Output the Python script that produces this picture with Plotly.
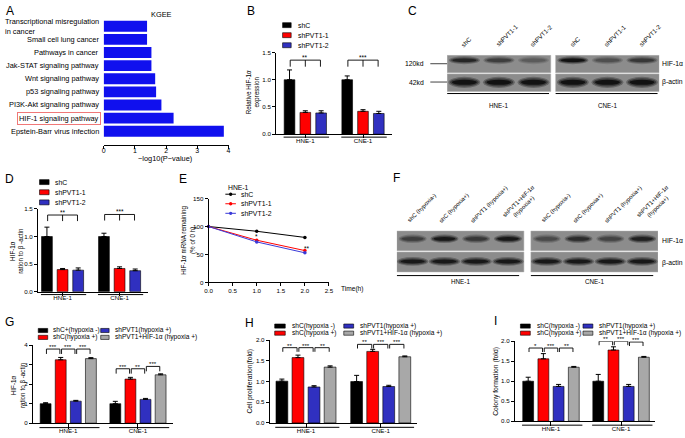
import plotly.graph_objects as go

W, H = 685, 438
FONT = "Liberation Sans, Arial, sans-serif"

# ======================= DATA =======================
# Panel A (KEGG enrichment)
kegg_terms = ["Epstein-Barr virus infection", "HIF-1 signaling pathway",
              "PI3K-Akt signaling pathway", "p53 signaling pathway",
              "Wnt signaling pathway", "Jak-STAT signaling pathway",
              "Pathways in cancer", "Small cell lung cancer",
              "Transcriptional misregulation<br>in cancer"]
kegg_logp = [3.85, 2.24, 1.85, 1.68, 1.65, 1.53, 1.53, 1.39, 1.39]
kegg_highlight = "HIF-1 signaling pathway"

cell_lines = ["HNE-1", "CNE-1"]

# Panel B (qPCR)
sh_groups = ["shC", "shPVT1-1", "shPVT1-2"]
b_shC = [1.00, 1.00]
b_shC_err = [0.18, 0.07]
b_sh1 = [0.40, 0.42]
b_sh1_err = [0.03, 0.03]
b_sh2 = [0.39, 0.38]
b_sh2_err = [0.04, 0.04]
b_sig = ["**", "***"]

# Panel D (WB quantification)
d_shC = [1.00, 1.00]
d_shC_err = [0.17, 0.06]
d_sh1 = [0.40, 0.42]
d_sh1_err = [0.02, 0.03]
d_sh2 = [0.39, 0.38]
d_sh2_err = [0.04, 0.03]
d_sig = ["**", "***"]

# Panel E (mRNA stability)
e_time = [0, 1, 2]
e_shC = [100, 91.5, 80.5]
e_sh1 = [100, 75.5, 57.0]
e_sh2 = [100, 72.5, 53.0]
e_sig = ["*", "**"]

# Panel C blots (relative band intensity 0..1)
c_lanes = ["shC", "shPVT1-1", "shPVT1-2"]
c_hif_hne = [0.85, 0.65, 0.40]
c_hif_cne = [1.00, 0.50, 0.70]
c_actin_hne = [1.00, 1.00, 1.00]
c_actin_cne = [1.00, 1.00, 1.00]

# Panel F blots
f_lanes = ["shC (hypoxia-)", "shC (hypoxia+)", "shPVT1 (hypoxia+)",
           "shPVT1+HIF-1α<br>(hypoxia+)"]
f_hif_hne = [0.65, 0.95, 0.70, 0.95]
f_hif_cne = [0.55, 0.80, 0.60, 0.90]
f_actin_hne = [0.95, 0.95, 0.95, 0.95]
f_actin_cne = [0.95, 0.95, 0.95, 0.95]

# Panels G, H, I
g_groups = ["shC+(hypoxia -)", "shC(hypoxia +)", "shPVT1(hypoxia +)",
            "shPVT1+HIF-1α (hypoxia +)"]
hyp_groups = ["shC(hypoxia -)", "shC(hypoxia +)", "shPVT1(hypoxia +)",
              "shPVT1+HIF-1α (hypoxia +)"]
g_hne = [1.00, 3.25, 1.13, 3.31]
g_hne_err = [0.05, 0.12, 0.04, 0.05]
g_cne = [1.00, 2.26, 1.22, 2.48]
g_cne_err = [0.12, 0.09, 0.05, 0.05]
g_sig_hne = ["***", "***", "***"]
g_sig_cne = ["***", "**", "***"]

h_hne = [1.01, 1.58, 0.87, 1.35]
h_hne_err = [0.05, 0.06, 0.03, 0.03]
h_cne = [1.00, 1.73, 0.88, 1.60]
h_cne_err = [0.15, 0.05, 0.03, 0.02]
h_sig_hne = ["**", "***", "**"]
h_sig_cne = ["**", "***", "***"]

i_hne = [1.00, 1.56, 0.87, 1.35]
i_hne_err = [0.10, 0.13, 0.05, 0.02]
i_cne = [1.00, 1.78, 0.87, 1.60]
i_cne_err = [0.17, 0.08, 0.05, 0.02]
i_sig_hne = ["*", "***", "**"]
i_sig_cne = ["**", "***", "***"]

# ======================= STYLE =======================
BLACK, RED, BLUE, GRAY, ABLUE = "#000000", "#ff0000", "#3030c0", "#a8a8a8", "#1010ee"
EBLUE = "#3a3ad8"
colors3 = [BLACK, RED, BLUE]
colors4 = [BLACK, RED, BLUE, GRAY]
BLOT_BG = (140, 140, 140)

fig = go.Figure()
shapes, annos, layout = [], [], {}


def ax_ids(n):
    s = "" if n == 1 else str(n)
    return "x" + s, "y" + s, "xaxis" + s, "yaxis" + s


def xd(a, b):
    return [a / W, b / W]


def yd(top, bot):
    return [1 - bot / H, 1 - top / H]


def PX(v):
    return v / W


def PY(v):
    return 1 - v / H


def tf(size=6.2, color="black"):
    return dict(family=FONT, size=size, color=color)


def prism_axis(dom, rng, anchor, ticklen=3, **kw):
    d = dict(domain=dom, range=rng, anchor=anchor, showline=True, linecolor="black",
             linewidth=1, ticks="outside", ticklen=ticklen, tickwidth=1,
             tickcolor="black", showgrid=False, zeroline=False, tickfont=tf(),
             fixedrange=True)
    d.update(kw)
    return d


def text(x, y, s, size=7, xanchor="center", yanchor="middle", **kw):
    annos.append(dict(x=PX(x), y=PY(y), xref="paper", yref="paper", text=s,
                      showarrow=False, font=tf(size), xanchor=xanchor,
                      yanchor=yanchor, **kw))


def hline_px(x0, x1, y, w=1, color="black"):
    shapes.append(dict(type="line", xref="paper", yref="paper", x0=PX(x0), x1=PX(x1),
                       y0=PY(y), y1=PY(y), line=dict(color=color, width=w)))


def swatch(x0, x1, yc, h, color):
    shapes.append(dict(type="rect", xref="paper", yref="paper", x0=PX(x0), x1=PX(x1),
                       y0=PY(yc + h / 2), y1=PY(yc - h / 2), fillcolor=color,
                       line=dict(color="black", width=0.6)))


def blend(c1, c2, t):
    return "rgb(%d,%d,%d)" % tuple(round(a + (b - a) * t) for a, b in zip(c1, c2))


def bar_panel(n, box, yrange, dtick, tickfmt, series, errs, colors, step, bw,
              xrange, under_px, brackets, drop, sig_size=6.5, standoff=-3):
    x, y, xk, yk = ax_ids(n)
    left, right, top, bot = box
    layout[xk] = prism_axis(xd(left, right), xrange, y, ticklen=under_px,
                            type="category", categoryorder="array",
                            categoryarray=cell_lines, ticklabelstandoff=standoff)
    layout[yk] = prism_axis(yd(top, bot), yrange, x, dtick=dtick, tickformat=tickfmt)
    k = len(series)
    offs = [(i - (k - 1) / 2) * step for i in range(k)]
    for i in range(k):
        fig.add_trace(go.Bar(
            x=cell_lines, y=series[i], xaxis=x, yaxis=y, width=bw,
            offset=offs[i] - bw / 2,
            marker=dict(color=colors[i], line=dict(color="black", width=0.6)),
            error_y=dict(type="data", symmetric=False, array=errs[i],
                         arrayminus=[0] * len(errs[i]), color="black",
                         thickness=1, width=2.5),
            showlegend=False, hoverinfo="skip"))
    half = offs[-1] + bw / 2
    for g in range(len(cell_lines)):
        shapes.append(dict(type="line", xref=x, yref="paper", x0=g - half - 0.01,
                           x1=g + half + 0.045, y0=PY(bot + under_px),
                           y1=PY(bot + under_px), line=dict(color="black", width=1)))
    for (g, i0, i1, yb, label, mid) in brackets:
        xa = g + offs[i0] + 0.012
        xb = g + offs[i1] - 0.012
        segs = [(xa, yb, xb, yb), (xa, yb, xa, yb - drop), (xb, yb, xb, yb - drop)]
        xc = (xa + xb) / 2
        if mid is not None:
            xc = g + offs[mid]
            segs.append((xc, yb, xc, yb - drop))
        for (a0, b0, a1, b1) in segs:
            shapes.append(dict(type="line", xref=x, yref=y, x0=a0, y0=b0, x1=a1, y1=b1,
                               line=dict(color="black", width=0.9)))
        annos.append(dict(x=xc, y=yb, xref=x, yref=y, text=label, showarrow=False,
                          font=tf(sig_size), xanchor="center", yanchor="bottom",
                          yshift=-3))


# ======================= PANEL A =======================
layout["xaxis"] = prism_axis(xd(101, 227.5), [0, 4], "y", dtick=1, tickfont=tf(7),
                             ticklabelstandoff=-4)
layout["yaxis"] = dict(domain=yd(16, 143), range=[-1.03, 8.5], type="category",
                       categoryorder="array", categoryarray=kegg_terms, showline=False,
                       showticklabels=False, ticks="", showgrid=False, zeroline=False,
                       anchor="x", fixedrange=True)
fig.add_trace(go.Bar(x=kegg_logp, y=kegg_terms, orientation="h", xaxis="x", yaxis="y",
                     width=0.83, marker=dict(color=ABLUE, line=dict(width=0)),
                     showlegend=False, hoverinfo="skip"))
for i, term in enumerate(kegg_terms):
    extra = {}
    if term == kegg_highlight:
        extra = dict(bordercolor="#f07878", borderwidth=1, borderpad=1)
    annos.append(dict(x=PX(98.5), y=i, xref="paper", yref="y", text=term,
                      showarrow=False, font=tf(7.4), xanchor="right", yanchor="middle",
                      align="left", **extra))
text(160, 10.5, "KGEE", 7.4)
text(163, 157, "−log10(P−value)", 7.4)

# ======================= PANEL B =======================
bar_panel(2, (275.7, 393.3, 49.3, 132.3), [0, 1.5], 0.5, ".1f",
          [b_shC, b_sh1, b_sh2], [b_shC_err, b_sh1_err, b_sh2_err], colors3,
          0.274, 0.185, [-0.507, 1.505], 3,
          [(0, 0, 2, 1.36, b_sig[0], 1), (1, 0, 2, 1.36, b_sig[1], 1)], 0.12)
for j, lab in enumerate(sh_groups):
    yc = 21.5 + j * 10.2
    swatch(282.3, 291, yc, 5, colors3[j])
    text(296, yc, lab, 6.9, xanchor="left")
text(252, 90, "Relative HIF-1α<br>expression", 6.3, textangle=-90)

# ======================= PANEL C (blot) =======================
x3, y3, xk3, yk3 = ax_ids(3)
layout[xk3] = dict(domain=xd(449, 664), range=[-0.5, 5.64], visible=False,
                   fixedrange=True, anchor=y3)
layout[yk3] = dict(domain=yd(51.5, 89.5), range=[1.5, -0.5], visible=False,
                   fixedrange=True, anchor=x3)
c_gap = 0.14
c_pos = [[i for i in range(len(c_lanes))],
         [len(c_lanes) + c_gap + i for i in range(len(c_lanes))]]
fig.add_trace(go.Scatter(x=c_pos[0] + c_pos[1], y=[0] * 6, xaxis=x3, yaxis=y3,
                         mode="markers", marker=dict(opacity=0), showlegend=False,
                         hoverinfo="skip"))


def band(xref, yref, xc, yc, w, h, k):
    for ws, hs, dk in [(1.0, 1.0, 0.3), (0.9, 0.72, 0.62), (0.78, 0.45, 0.95)]:
        shapes.append(dict(type="circle", xref=xref, yref=yref,
                           x0=xc - w * ws / 2, x1=xc + w * ws / 2,
                           y0=yc - h * hs / 2, y1=yc + h * hs / 2,
                           fillcolor=blend(BLOT_BG, (12, 12, 12), dk * k),
                           line=dict(width=0)))


def blot(xref, yref, pos_sets, rows, row_cfg):
    for r, per_blot in enumerate(rows):
        yc0, bh, bw = row_cfg[r]
        for pos, intens in zip(pos_sets, per_blot):
            shapes.append(dict(type="rect", xref=xref, yref=yref, x0=pos[0] - 0.5,
                               x1=pos[-1] + 0.5, y0=r - 0.47, y1=r + 0.47,
                               fillcolor=blend(BLOT_BG, (0, 0, 0), 0),
                               line=dict(color="#b0b0b0", width=0.5)))
            for p, k in zip(pos, intens):
                band(xref, yref, p, r + yc0, bw, bh, k)


blot(x3, y3, c_pos, [[c_hif_hne, c_hif_cne], [c_actin_hne, c_actin_cne]],
     [(-0.2, 0.42, 0.9), (-0.02, 0.6, 0.92)])
for pos in c_pos:
    for p, lab in zip(pos, c_lanes):
        annos.append(dict(x=p - 0.22, y=PY(47.5), xref=x3, yref="paper", text=lab,
                          showarrow=False, font=tf(6.2), xanchor="left",
                          yanchor="bottom", textangle=-45))
for pos, cl in zip(c_pos, cell_lines):
    shapes.append(dict(type="line", xref=x3, yref="paper", x0=pos[0] - 0.5,
                       x1=pos[-1] + 0.45, y0=PY(91), y1=PY(91),
                       line=dict(color="black", width=1)))
    annos.append(dict(x=(pos[0] + pos[-1]) / 2, y=PY(97.5), xref=x3, yref="paper",
                      text=cl, showarrow=False, font=tf(6.3)))
text(665, 60, "HIF-1α", 6.8, xanchor="left")
text(665, 79.5, "β-actin", 6.8, xanchor="left")
text(428, 60.7, "120kd", 6.8, xanchor="right")
text(428, 79.3, "42kd", 6.8, xanchor="right")
hline_px(432, 449, 60.7, 1, "#444")
hline_px(432, 449, 79.3, 1, "#444")

# ======================= PANEL D =======================
bar_panel(4, (34.5, 146, 208.3, 292.3), [0, 1.5], 0.5, ".1f",
          [d_shC, d_sh1, d_sh2], [d_shC_err, d_sh1_err, d_sh2_err], colors3,
          0.274, 0.19, [-0.43, 1.5], 3,
          [(0, 0, 2, 1.39, d_sig[0], 1), (1, 0, 2, 1.40, d_sig[1], 1)], 0.11)
for j, lab in enumerate(sh_groups):
    yc = 181 + j * 10.3
    swatch(36, 45.7, yc, 5, colors3[j])
    text(50, yc, lab, 6.9, xanchor="left")
text(13, 251, "HIF-1α<br>ration to β -actin", 6.3, textangle=-90)

# ======================= PANEL E =======================
x5, y5, xk5, yk5 = ax_ids(5)
layout[xk5] = prism_axis(xd(207.3, 329.3), [0, 2.5], y5, dtick=0.5, tickformat=".1f",
                         ticklabelstandoff=-1)
layout[yk5] = prism_axis(yd(197.7, 283), [0, 150], x5, dtick=50)
e_series = [("shC", e_shC, BLACK), ("shPVT1-1", e_sh1, RED), ("shPVT1-2", e_sh2, EBLUE)]
for name, vals, col in e_series:
    fig.add_trace(go.Scatter(x=e_time, y=vals, xaxis=x5, yaxis=y5, mode="lines+markers",
                             line=dict(color=col, width=1), cliponaxis=False,
                             marker=dict(color=col, size=3.5, symbol="circle"),
                             showlegend=False, hoverinfo="skip"))
annos.append(dict(x=e_time[1], y=e_shC[1] - 8, xref=x5, yref=y5, text=e_sig[0],
                  showarrow=False, font=tf(6.5), yanchor="middle", yshift=-1))
annos.append(dict(x=e_time[2] + 0.04, y=e_sh1[2] + 6, xref=x5, yref=y5, text=e_sig[1],
                  showarrow=False, font=tf(6.5), yanchor="middle", yshift=-1))
text(225, 186, "HNE-1", 6.8, xanchor="left")
for j, (name, vals, col) in enumerate(e_series):
    yc = 193.3 + j * 9.7
    hline_px(224.3, 235, yc, 1, col)
    shapes.append(dict(type="circle", xref="paper", yref="paper", x0=PX(228), x1=PX(231.4),
                       y0=PY(yc + 1.7), y1=PY(yc - 1.7), fillcolor=col, line=dict(width=0)))
    text(238.3, yc, name, 6.9, xanchor="left")
text(339, 289.5, "Time(h)", 6.6, xanchor="left")
text(187, 240, "HIF-1α mRNA remaining<br>(% of 0 h)", 6.3, textangle=-90)

# ======================= PANEL F (blot) =======================
x6, y6, xk6, yk6 = ax_ids(6)
layout[xk6] = dict(domain=xd(398, 662.7), range=[-0.5, 7.72], visible=False,
                   fixedrange=True, anchor=y6)
layout[yk6] = dict(domain=yd(230, 273), range=[1.5, -0.5], visible=False,
                   fixedrange=True, anchor=x6)
f_gap = 0.22
f_pos = [[i for i in range(len(f_lanes))],
         [len(f_lanes) + f_gap + i for i in range(len(f_lanes))]]
fig.add_trace(go.Scatter(x=f_pos[0] + f_pos[1], y=[0] * 8, xaxis=x6, yaxis=y6,
                         mode="markers", marker=dict(opacity=0), showlegend=False,
                         hoverinfo="skip"))
blot(x6, y6, f_pos, [[f_hif_hne, f_hif_cne], [f_actin_hne, f_actin_cne]],
     [(-0.1, 0.4, 0.88), (-0.03, 0.42, 0.98)])
for pos in f_pos:
    for p, lab in zip(pos, f_lanes):
        annos.append(dict(x=p - 0.3, y=PY(226), xref=x6, yref="paper", text=lab,
                          showarrow=False, font=tf(5.8), xanchor="left",
                          yanchor="bottom", textangle=-45, align="center"))
for pos, cl in zip(f_pos, cell_lines):
    shapes.append(dict(type="line", xref=x6, yref="paper", x0=pos[0] - 0.5,
                       x1=pos[-1] + 0.35, y0=PY(276), y1=PY(276),
                       line=dict(color="black", width=1)))
    annos.append(dict(x=(pos[0] + pos[-1]) / 2, y=PY(282), xref=x6, yref="paper",
                      text=cl, showarrow=False, font=tf(6.3)))
text(665, 240, "HIF-1α", 6.8, xanchor="left")
text(665, 263, "β-actin", 6.8, xanchor="left")

# ======================= PANELS G, H, I =======================
bar_panel(7, (29.3, 171.7, 346.7, 426), [0, 4], 1, "d",
          [[g_hne[k], g_cne[k]] for k in range(4)],
          [[g_hne_err[k], g_cne_err[k]] for k in range(4)], colors4,
          0.2166, 0.156, [-0.507, 1.509], 4.5,
          [(0, 0, 1, 3.80, g_sig_hne[0], None), (0, 1, 2, 3.80, g_sig_hne[1], None),
           (0, 2, 3, 3.80, g_sig_hne[2], None),
           (1, 0, 1, 2.79, g_sig_cne[0], None), (1, 1, 2, 2.79, g_sig_cne[1], None),
           (1, 2, 3, 2.91, g_sig_cne[2], None)], 0.25, 6.2)
bar_panel(8, (269.3, 418.3, 341.7, 425.7), [0, 2], 0.5, ".1f",
          [[h_hne[k], h_cne[k]] for k in range(4)],
          [[h_hne_err[k], h_cne_err[k]] for k in range(4)], colors4,
          0.215, 0.158, [-0.485, 1.483], 4.5,
          [(0, 0, 1, 1.82, h_sig_hne[0], None), (0, 1, 2, 1.82, h_sig_hne[1], None),
           (0, 2, 3, 1.82, h_sig_hne[2], None),
           (1, 0, 1, 1.90, h_sig_cne[0], None), (1, 1, 2, 1.90, h_sig_cne[1], None),
           (1, 2, 3, 1.90, h_sig_cne[2], None)], 0.1, 6.2)
bar_panel(9, (517.7, 660, 342.7, 424), [0, 2], 0.5, ".1f",
          [[i_hne[k], i_cne[k]] for k in range(4)],
          [[i_hne_err[k], i_cne_err[k]] for k in range(4)], colors4,
          0.217, 0.155, [-0.515, 1.489], 4,
          [(0, 0, 1, 1.83, i_sig_hne[0], None), (0, 1, 2, 1.83, i_sig_hne[1], None),
           (0, 2, 3, 1.83, i_sig_hne[2], None),
           (1, 0, 1, 2.0, i_sig_cne[0], None), (1, 1, 2, 2.0, i_sig_cne[1], None),
           (1, 2, 3, 1.98, i_sig_cne[2], None)], 0.1, 6.2)


def legend2x2(labels, c1_sw, c1_tx, c2_sw, c2_tx, rows_y, size):
    cols = [(c1_sw, c1_tx), (c1_sw, c1_tx), (c2_sw, c2_tx), (c2_sw, c2_tx)]
    for k, lab in enumerate(labels):
        (sw0, sw1), tx = cols[k]
        yc = rows_y[k % 2]
        swatch(sw0, sw1, yc, 4.2, colors4[k])
        text(tx, yc, lab, size, xanchor="left")


legend2x2(g_groups, (34.7, 44.3), 47.7, (98, 106.5), 110, (331.8, 338.8), 6.6)
legend2x2(hyp_groups, (274.3, 285), 290, (344.3, 354.3), 358.3, (327.3, 334.5), 6.6)
legend2x2(hyp_groups, (523.3, 533.3), 537.7, (586.7, 596.7), 600.7, (327.3, 334.5), 6.6)
text(14.5, 387, "HIF-1α<br>ration to β -actin", 6.3, textangle=-90)
text(249, 383, "Cell proliferation(fold)", 6.8, textangle=-90)
text(498.5, 383, "Colony formation (fold)", 6.8, textangle=-90)

# ======================= PANEL LETTERS =======================
for lab, px, py in [("A", 6, 7), ("B", 250, 7), ("C", 414, 7), ("D", 6, 178),
                    ("E", 181, 178), ("F", 398, 177), ("G", 6, 323), ("H", 249, 324),
                    ("I", 498, 322)]:
    text(px, py, lab, 12)

fig.update_layout(width=W, height=H, margin=dict(l=0, r=0, t=0, b=0),
                  paper_bgcolor="white", plot_bgcolor="white", barmode="overlay",
                  font=dict(family=FONT, color="black"), shapes=shapes,
                  annotations=annos, showlegend=False, **layout)
fig.write_html("out.html", config={"displayModeBar": False, "staticPlot": True},
               post_script="document.body.style.margin='0';document.body.style.padding='0';")
